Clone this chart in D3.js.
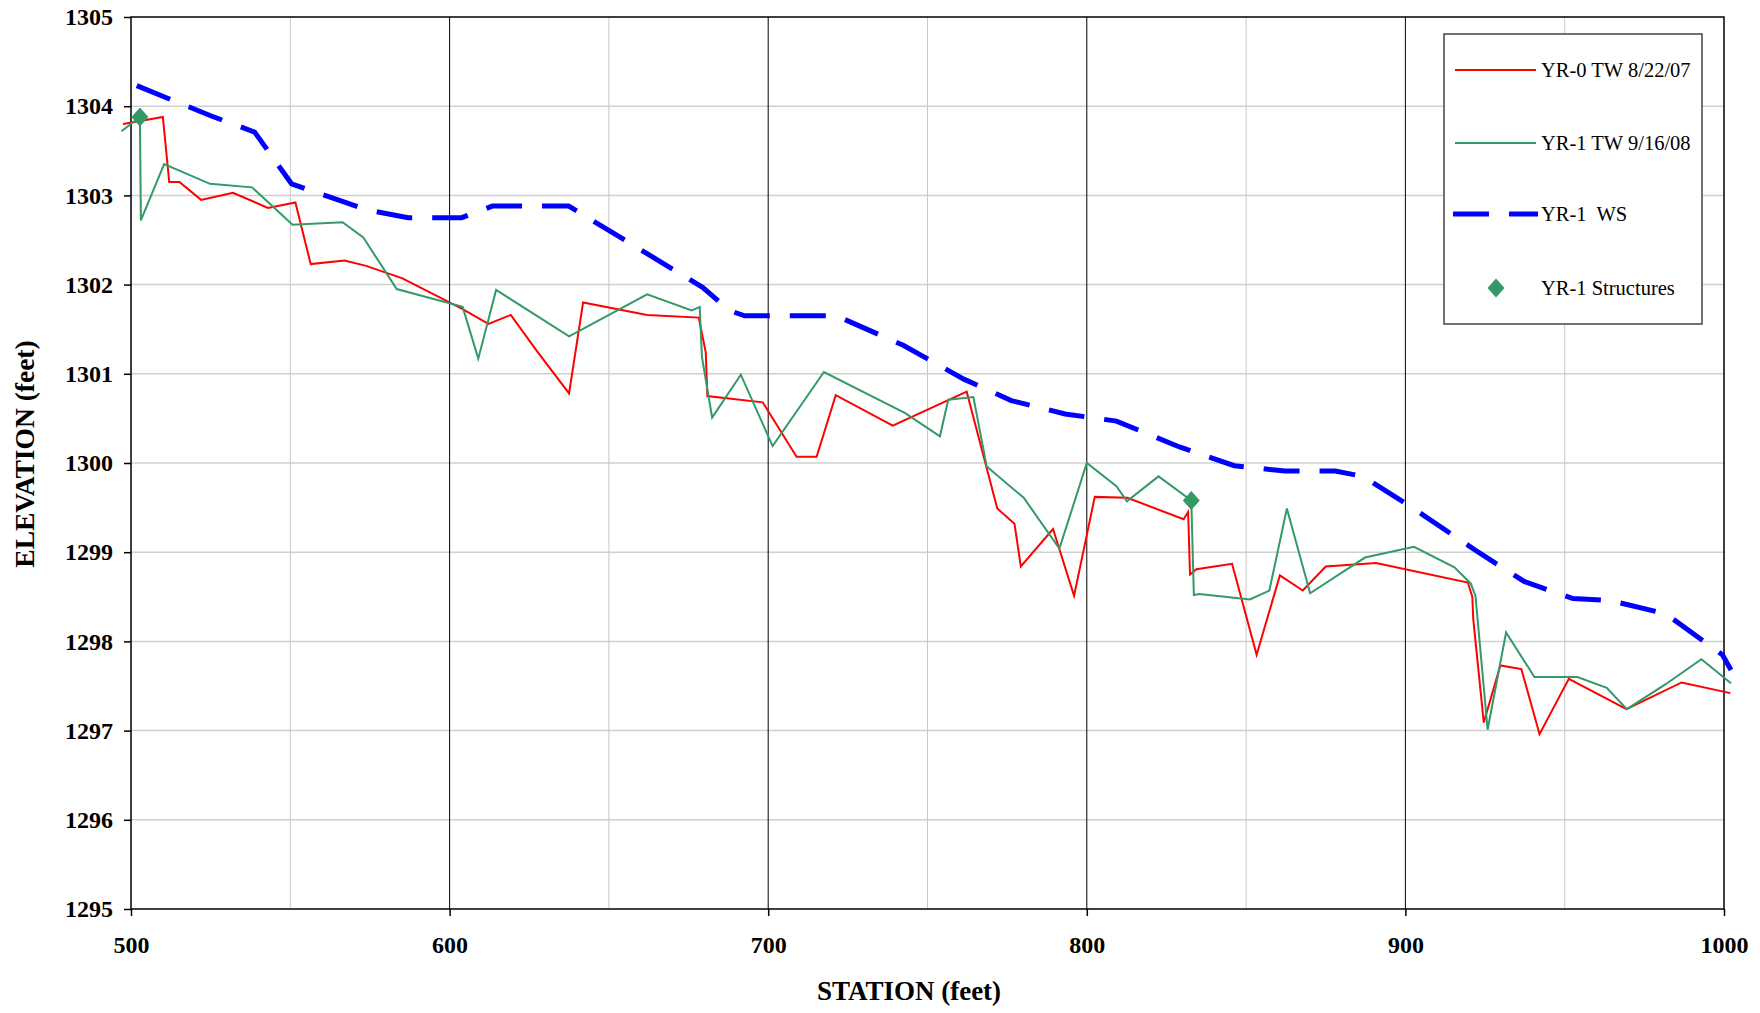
<html>
<head>
<style>
  body { margin: 0; background: #fff; }
  text { font-family: "Liberation Serif", "Times New Roman", serif; }
</style>
</head>
<body>
<svg id="chart"></svg>
<script src="https://cdnjs.cloudflare.com/ajax/libs/d3/7.8.5/d3.min.js"></script>
<script>
    // station (feet), elevation (feet)
    const tw2007 = [[497.5, 1303.80], [510, 1303.88], [512, 1303.15], [515.2, 1303.15], [522, 1302.95],
        [532, 1303.03], [543, 1302.86], [551.6, 1302.92], [556.4, 1302.23], [567, 1302.27], [573.8, 1302.21],
        [585.2, 1302.07], [603.8, 1301.73], [612.2, 1301.56], [619.2, 1301.66], [627.3, 1301.26],
        [637.5, 1300.78], [641.9, 1301.80], [662, 1301.66], [678.2, 1301.63], [680.4, 1301.24],
        [680.9, 1300.75], [698.3, 1300.68], [708.9, 1300.07], [715.2, 1300.07], [721.2, 1300.76],
        [739.1, 1300.42], [762.3, 1300.80], [771.9, 1299.49], [777.3, 1299.32], [779.3, 1298.84],
        [789.4, 1299.26], [796, 1298.51], [802.5, 1299.62], [812.7, 1299.61], [830.4, 1299.37],
        [831.8, 1299.45], [832.4, 1298.75], [834.4, 1298.81], [845.6, 1298.87], [853.3, 1297.85],
        [860.6, 1298.74], [867.8, 1298.57], [875, 1298.84], [890.8, 1298.88], [919.6, 1298.66],
        [921, 1298.5], [921.3, 1298.25], [924.6, 1297.09], [929.8, 1297.73], [936.4, 1297.69],
        [942.1, 1296.96], [951.3, 1297.58], [969.4, 1297.24], [986.7, 1297.54], [1002, 1297.42]];

    const tw2008 = [[497, 1303.72], [502.8, 1303.88], [503.1, 1302.72], [510.4, 1303.35], [524.8, 1303.13],
        [538, 1303.09], [550.7, 1302.67], [566.4, 1302.70], [572.9, 1302.53], [583.4, 1301.95],
        [604.1, 1301.75], [609, 1301.17], [614.6, 1301.94], [637.5, 1301.42], [662, 1301.89],
        [676, 1301.71], [678.5, 1301.75], [679.2, 1301.19], [682.4, 1300.51], [691.4, 1300.99],
        [701.4, 1300.19], [717.5, 1301.02], [743, 1300.56], [753.9, 1300.30], [756.5, 1300.71],
        [764.4, 1300.74], [768.6, 1299.96], [780.2, 1299.61], [791.4, 1299.04], [800, 1300.00],
        [809.3, 1299.74], [812.6, 1299.57], [822.5, 1299.85], [832.8, 1299.58], [833.6, 1298.52],
        [835.3, 1298.53], [851.2, 1298.47], [857.3, 1298.57], [862.8, 1299.49], [870.1, 1298.54],
        [887.3, 1298.94], [902.7, 1299.06], [915.4, 1298.83], [920.5, 1298.65], [922, 1298.51],
        [925.8, 1297.01], [931.6, 1298.10], [940.5, 1297.60], [954, 1297.60], [963.2, 1297.48],
        [969.5, 1297.24], [981.7, 1297.52], [992.9, 1297.80], [1002.2, 1297.53]];

    const ws2008 = [[501.8, 1304.23], [525.2, 1303.89], [538.8, 1303.71], [550.4, 1303.13], [566.6, 1302.93],
        [573.8, 1302.84], [587, 1302.75], [603.8, 1302.75], [613.4, 1302.88], [637.4, 1302.88],
        [679.4, 1301.97], [687.8, 1301.71], [692.6, 1301.65], [721.4, 1301.65], [742.4, 1301.32],
        [761.4, 1300.94], [776.3, 1300.70], [793.2, 1300.55], [809.3, 1300.47], [829.1, 1300.18],
        [846.3, 1299.97], [862.2, 1299.91], [878, 1299.91], [886.6, 1299.85], [900, 1299.55],
        [922.9, 1299.00], [937.4, 1298.67], [952.6, 1298.48], [964, 1298.46], [981.7, 1298.31],
        [999.5, 1297.85], [1002.2, 1297.68]];

    const structures = [[502.8, 1303.88], [832.8, 1299.58]];

    const xTicks = [500, 600, 700, 800, 900, 1000];
    const xMinor = [550, 650, 750, 850, 950];
    const yTicks = [1295, 1296, 1297, 1298, 1299, 1300, 1301, 1302, 1303, 1304, 1305];

    const legendItems = [
        { label: "YR-0 TW 8/22/07", type: "line", color: "#ff0000" },
        { label: "YR-1 TW 9/16/08", type: "line", color: "#339966" },
        { label: "YR-1\u00a0 WS", type: "dash", color: "#0000ff" },
        { label: "YR-1 Structures", type: "marker", color: "#339966" }
    ];

    const width = 1760,
        height = 1013,
        margin = { top: 17, right: 36, bottom: 104, left: 131 };

    const svg = d3.select('#chart')
        .attr('width', width)
        .attr('height', height);

    const x = d3.scaleLinear().domain([500, 1000]).range([margin.left, width - margin.right]);
    const y = d3.scaleLinear().domain([1295, 1305]).range([height - margin.bottom, margin.top]);

    // grid
    svg.append('g')
        .selectAll('line')
        .data(yTicks.slice(1, -1))
        .enter().append('line')
        .attr('x1', x(500)).attr('x2', x(1000))
        .attr('y1', d => y(d)).attr('y2', d => y(d))
        .attr('stroke', '#d0d0d0').attr('stroke-width', 1.5);

    svg.append('g')
        .selectAll('line')
        .data(xMinor)
        .enter().append('line')
        .attr('x1', d => x(d)).attr('x2', d => x(d))
        .attr('y1', y(1295)).attr('y2', y(1305))
        .attr('stroke', '#c8c8c8').attr('stroke-width', 1);

    svg.append('g')
        .selectAll('line')
        .data(xTicks.slice(1, -1))
        .enter().append('line')
        .attr('x1', d => x(d)).attr('x2', d => x(d))
        .attr('y1', y(1295)).attr('y2', y(1305))
        .attr('stroke', '#000').attr('stroke-width', 1);

    // plot border
    svg.append('rect')
        .attr('x', x(500)).attr('y', y(1305))
        .attr('width', x(1000) - x(500)).attr('height', y(1295) - y(1305))
        .attr('fill', 'none').attr('stroke', '#000').attr('stroke-width', 1.5);

    // axes
    const xAxis = svg.append('g')
        .attr('transform', `translate(0,${y(1295)})`)
        .call(d3.axisBottom(x).tickValues(xTicks).tickFormat(d3.format('d')).tickSize(7).tickPadding(20));
    const yAxis = svg.append('g')
        .attr('transform', `translate(${x(500)},0)`)
        .call(d3.axisLeft(y).tickValues(yTicks).tickFormat(d3.format('d')).tickSize(7).tickPadding(11));

    [xAxis, yAxis].forEach(a => {
        a.select('.domain').remove();
        a.selectAll('line').attr('stroke', '#000').attr('stroke-width', 1.5);
        a.selectAll('text')
            .attr('fill', '#000')
            .style('font-family', '"Liberation Serif", serif')
            .style('font-size', '24px')
            .style('font-weight', 'bold');
    });

    svg.append('text')
        .attr('x', 909)
        .attr('y', 1000)
        .attr('text-anchor', 'middle')
        .style('font-size', '27px').style('font-weight', 'bold')
        .text('STATION (feet)');

    svg.append('text')
        .attr('transform', `translate(34,454) rotate(-90)`)
        .attr('text-anchor', 'middle')
        .style('font-size', '27.5px').style('font-weight', 'bold')
        .text('ELEVATION (feet)');

    // series
    const line = d3.line().x(d => x(d[0])).y(d => y(d[1]));

    svg.append('path').datum(ws2008)
        .attr('d', line)
        .attr('fill', 'none').attr('stroke', '#0000ff')
        .attr('stroke-width', 5).attr('stroke-dasharray', '36,20');

    svg.append('path').datum(tw2007)
        .attr('d', line)
        .attr('fill', 'none').attr('stroke', '#ff0000')
        .attr('stroke-width', 2).attr('stroke-linejoin', 'miter');

    svg.append('path').datum(tw2008)
        .attr('d', line)
        .attr('fill', 'none').attr('stroke', '#339966')
        .attr('stroke-width', 2).attr('stroke-linejoin', 'miter');

    // diamond marker
    const diamond = 'M0,-9.5L8.5,0L0,9.5L-8.5,0Z';

    svg.append('g')
        .selectAll('path')
        .data(structures)
        .enter().append('path')
        .attr('d', diamond)
        .attr('transform', d => `translate(${x(d[0])},${y(d[1])})`)
        .attr('fill', '#339966');

    // legend
    const legend = svg.append('g').attr('transform', 'translate(1444,34)');
    legend.append('rect')
        .attr('width', 258).attr('height', 290)
        .attr('fill', '#fff').attr('stroke', '#444').attr('stroke-width', 1.5);

    const rowY = [36, 109, 180, 254];
    legendItems.forEach((item, i) => {
        const g = legend.append('g').attr('transform', `translate(0,${rowY[i]})`);
        if (item.type === 'line') {
            g.append('line').attr('x1', 11).attr('x2', 92)
                .attr('stroke', item.color).attr('stroke-width', 2);
        } else if (item.type === 'dash') {
            g.append('line').attr('x1', 9).attr('x2', 45)
                .attr('stroke', item.color).attr('stroke-width', 5);
            g.append('line').attr('x1', 65).attr('x2', 94)
                .attr('stroke', item.color).attr('stroke-width', 5);
        } else {
            g.append('path').attr('d', diamond)
                .attr('transform', 'translate(52,0)')
                .attr('fill', item.color);
        }
        g.append('text')
            .attr('x', 97).attr('y', 7)
            .style('font-size', '20.5px')
            .text(item.label);
    });
</script>
</body>
</html>
